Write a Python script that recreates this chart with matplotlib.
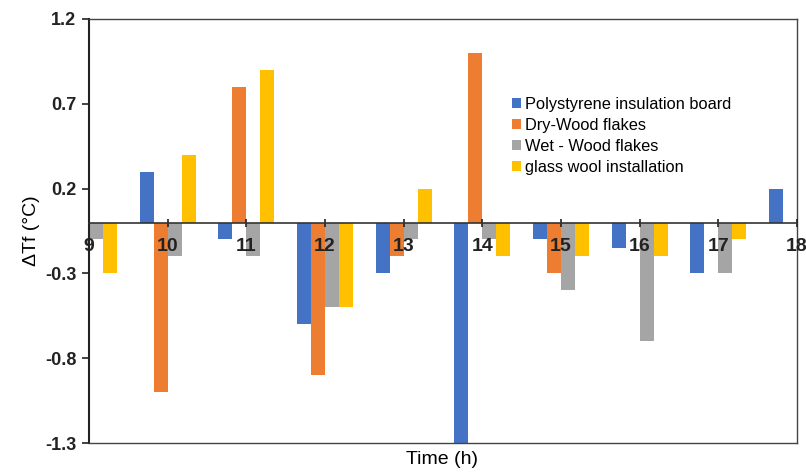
import matplotlib
matplotlib.use("Agg")
import matplotlib.pyplot as plt
import numpy as np

plt.rcParams['font.family'] = ['Liberation Sans', 'DejaVu Sans']

hours = [9, 10, 11, 12, 13, 14, 15, 16, 17, 18]
series_names = ["Polystyrene insulation board", "Dry-Wood flakes",
                "Wet - Wood flakes", "glass wool installation"]
polystyrene = [0.0, 0.3, -0.1, -0.6, -0.3, -1.3, -0.1, -0.15, -0.3, 0.2]
dry_wood = [0.0, -1.0, 0.8, -0.9, -0.2, 1.0, -0.3, 0.0, 0.0, 0.0]
wet_wood = [-0.1, -0.2, -0.2, -0.5, -0.1, -0.1, -0.4, -0.7, -0.3, 0.0]
glass_wool = [-0.3, 0.4, 0.9, -0.5, 0.2, -0.2, -0.2, -0.2, -0.1, 0.0]
y_ticks = [-1.3, -0.8, -0.3, 0.2, 0.7, 1.2]

colors = ["#4472C4", "#ED7D31", "#A5A5A5", "#FFC000"]
data = [polystyrene, dry_wood, wet_wood, glass_wool]

fig = plt.figure(figsize=(8.06, 4.75), dpi=100)
ax = fig.add_axes([89/806, 1 - 443/475, (797-89)/806, (443-19)/475])
ax.set_axisbelow(False)

x = np.array(hours, dtype=float)
w = 0.178
for i, (vals, c, name) in enumerate(zip(data, colors, series_names)):
    ax.bar(x + (i - 1.5) * w, vals, width=w, color=c, label=name, zorder=2)

ax.spines['bottom'].set_position(('data', 0))
ax.spines['bottom'].set_color('#333333')
ax.spines['bottom'].set_linewidth(1.2)
ax.spines['bottom'].set_zorder(3)
ax.spines['left'].set_color('#222222')
ax.spines['left'].set_linewidth(1.5)
for s in ['top', 'right']:
    ax.spines[s].set_color('#444444')
    ax.spines[s].set_linewidth(1.0)
ax.axhline(-1.3, color='#444444', linewidth=1.0, clip_on=False, zorder=3)

ax.set_xlim(9, 18)
ax.set_ylim(-1.3, 1.2)
ax.set_yticks(y_ticks)
ax.set_yticklabels([f"{v:.1f}" for v in y_ticks], fontsize=13, fontweight='bold')
ax.set_xticks(hours)
ax.set_xticklabels([str(h) for h in hours], fontsize=14, fontweight='bold')

ax.tick_params(axis='x', direction='inout', length=6, width=1.2, pad=8, colors='#222222')
ax.tick_params(axis='y', direction='out', length=5, width=1.2, pad=4, colors='#222222')

ax.set_ylabel("ΔTf (°C)", fontsize=14, labelpad=4)
fig.text(442/806, 1 - 460/475, "Time (h)", fontsize=14, ha='center', va='center')

leg = ax.legend(loc='upper left', bbox_to_anchor=((505-89)/708, 1 - (90-19)/424),
                frameon=False, fontsize=11.8, handlelength=0.55, handleheight=0.55,
                handletextpad=0.3, labelspacing=0.37, borderaxespad=0)

fig.savefig("out.png", dpi=100)
